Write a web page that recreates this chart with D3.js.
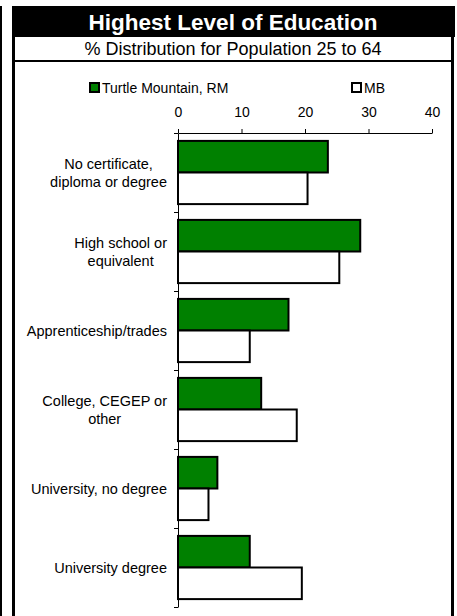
<!DOCTYPE html>
<html>
<head>
<meta charset="utf-8">
<script src="https://cdn.jsdelivr.net/npm/d3@7"></script>
<style>
  body { margin: 0; background: #fff; }
  text { font-family: "Liberation Sans", Arial, sans-serif; }
</style>
</head>
<body>
<svg width="457" height="616"></svg>
<script>
// chart values
const categories = [
  ["No certificate,", "diploma or degree"],
  ["High school or", "equivalent"],
  ["Apprenticeship/trades"],
  ["College, CEGEP or", "other"],
  ["University, no degree"],
  ["University degree"]
];
const seriesNames = ["Turtle Mountain, RM", "MB"];
const turtleMountain = [23.6, 28.7, 17.4, 13.1, 6.2, 11.3];
const mb = [20.4, 25.4, 11.3, 18.7, 4.8, 19.5];
const xTicks = [0, 10, 20, 30, 40];
const seriesColors = ["#008000", "#ffffff"];

let svg = d3.select("svg");
let width = 457, height = 616;

// frame
svg.append("rect").attr("x", 0).attr("y", 6).attr("width", 2).attr("height", height).attr("fill", "#000");
svg.append("rect").attr("x", 12).attr("y", 6).attr("width", 443).attr("height", 31).attr("fill", "#000");
svg.append("rect").attr("x", 12).attr("y", 6).attr("width", 3).attr("height", height).attr("fill", "#000");
svg.append("rect").attr("x", 451).attr("y", 6).attr("width", 3).attr("height", height).attr("fill", "#000");
svg.append("rect").attr("x", 12).attr("y", 60).attr("width", 442).attr("height", 2).attr("fill", "#000");

svg.append("text")
  .attr("x", 233).attr("y", 29.5)
  .attr("text-anchor", "middle")
  .attr("fill", "#fff")
  .attr("font-weight", "bold")
  .attr("font-size", 22.5)
  .text("Highest Level of Education");

svg.append("text")
  .attr("x", 233).attr("y", 55)
  .attr("text-anchor", "middle")
  .attr("fill", "#000")
  .attr("font-size", 18)
  .text("% Distribution for Population 25 to 64");

let keys = categories.map(c => c.join(" "));
let rows = keys.map((k, i) => ({key: k, lines: categories[i], values: [turtleMountain[i], mb[i]]}));

let x = d3.scaleLinear().domain([0, 40]).range([178, 432]);
let y0 = d3.scaleBand().domain(keys).range([133, 607]);
let y1 = d3.scaleBand().domain(seriesNames).range([0, y0.bandwidth()]).paddingOuter(0.25);
let z = d3.scaleOrdinal().domain(seriesNames).range(seriesColors);

// bars
let groups = svg.append("g").selectAll("g")
  .data(rows)
  .enter().append("g")
  .attr("transform", d => "translate(0," + y0(d.key) + ")");

groups.selectAll("rect")
  .data(d => d.values.map((v, i) => ({name: seriesNames[i], value: v})))
  .enter().append("rect")
  .attr("x", x(0))
  .attr("y", d => y1(d.name))
  .attr("width", d => x(d.value) - x(0))
  .attr("height", y1.bandwidth())
  .attr("fill", d => z(d.name))
  .attr("stroke", "#000")
  .attr("stroke-width", 2);

// top axis
let xAxis = svg.append("g")
  .attr("transform", "translate(0," + y0.range()[0] + ")")
  .call(d3.axisTop(x).tickValues(xTicks).tickSizeInner(4).tickSizeOuter(0).tickPadding(12));
xAxis.selectAll("text").attr("font-size", 14).attr("fill", "#000")
  .attr("font-family", "'Liberation Sans', Arial, sans-serif");
xAxis.selectAll("line, path").attr("stroke", "#000");

// left axis: ticks at category boundaries
let yb = d3.scaleLinear().domain([0, keys.length]).range(y0.range());
let yAxis = svg.append("g")
  .attr("transform", "translate(" + x(0) + ",0)")
  .call(d3.axisLeft(yb).ticks(keys.length).tickFormat("").tickSizeInner(4).tickSizeOuter(0));
yAxis.selectAll("line, path").attr("stroke", "#000");

// category labels
let labels = svg.append("g")
  .attr("font-size", 14.5)
  .attr("fill", "#000")
  .selectAll("text")
  .data(rows)
  .enter().append("text")
  .attr("text-anchor", "end")
  .attr("transform", d => "translate(167," + (y0(d.key) + y0.bandwidth() / 2) + ")");

labels.each(function(d) {
  let t = d3.select(this);
  let n = d.lines.length;
  if (n === 1) {
    t.append("tspan").attr("x", 0).attr("y", 5).text(d.lines[0]);
  } else {
    // centred lines inside a right-aligned block
    let tmp = t.append("tspan");
    let w = d3.max(d.lines, l => { tmp.text(l); return tmp.node().getComputedTextLength(); });
    tmp.remove();
    t.attr("text-anchor", "middle");
    d.lines.forEach((l, i) => {
      t.append("tspan").attr("x", -w / 2).attr("y", 5 + (i - (n - 1) / 2) * 18).text(l);
    });
  }
});

// legend
let legend = svg.append("g")
  .attr("font-size", 14)
  .selectAll("g")
  .data(seriesNames)
  .enter().append("g")
  .attr("transform", (d, i) => "translate(" + [90, 352][i] + ",83)");

legend.append("rect")
  .attr("width", 9).attr("height", 9)
  .attr("fill", z)
  .attr("stroke", "#000")
  .attr("stroke-width", 2);

legend.append("text")
  .attr("x", 12).attr("y", 10)
  .attr("fill", "#000")
  .text(d => d);
</script>
</body>
</html>
